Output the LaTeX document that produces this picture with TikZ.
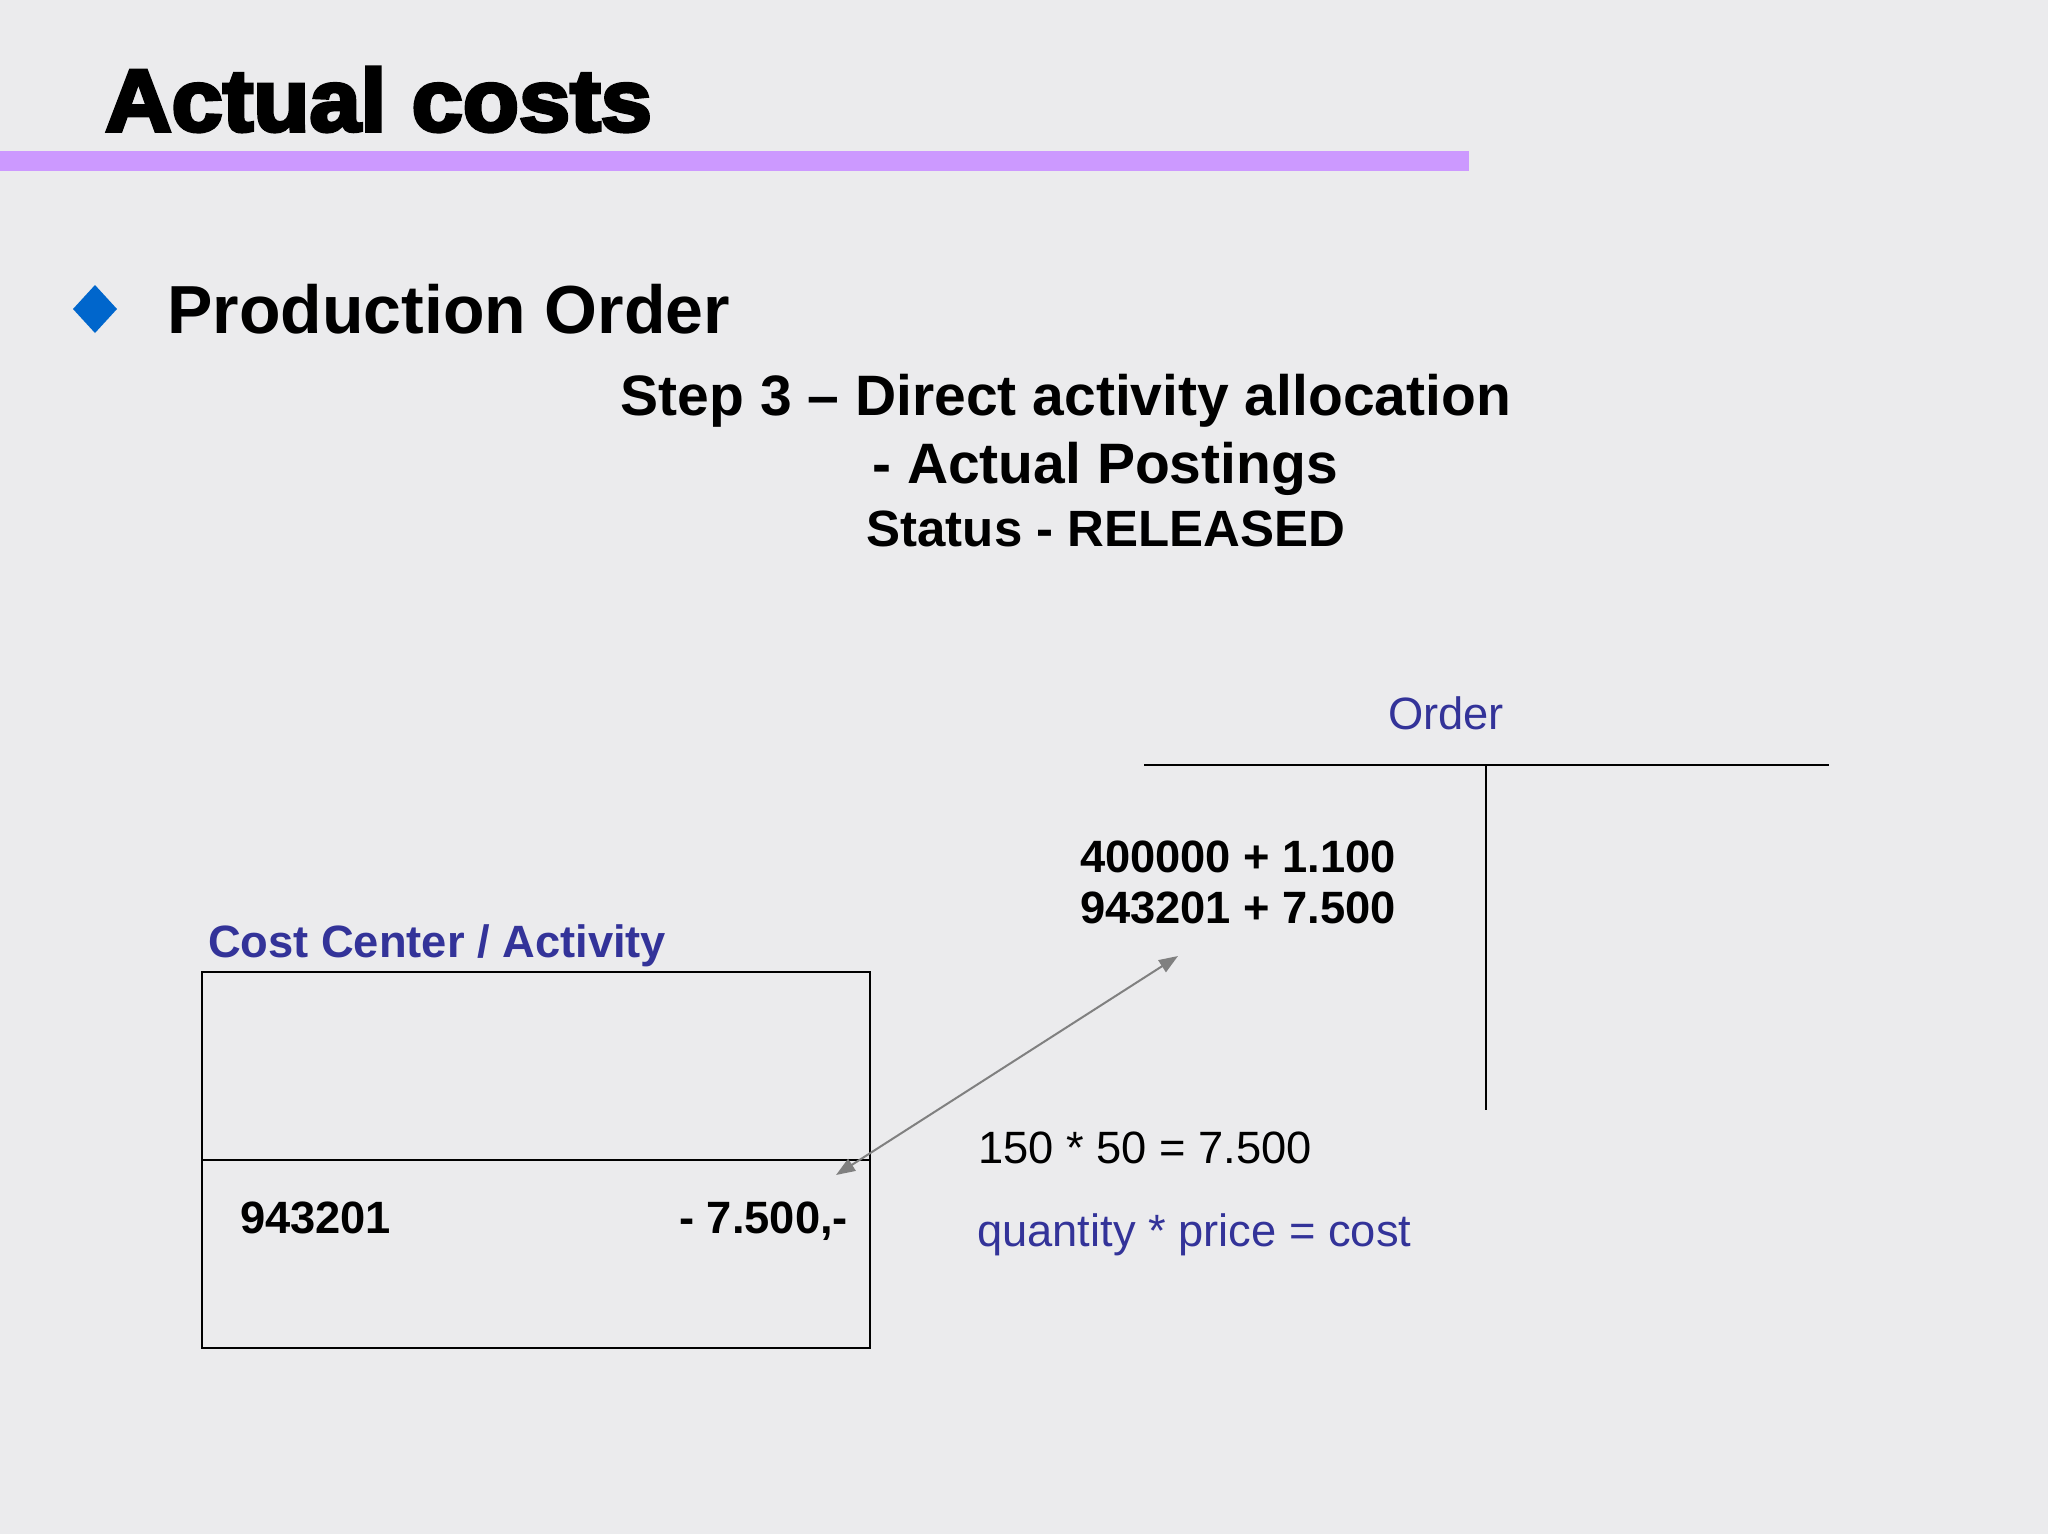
\documentclass[tikz,border=0pt]{standalone}
\usepackage{fontspec}
\setmainfont{Liberation Sans}
\newfontfamily\titlefont[FakeBold=4]{Liberation Sans Bold}
\usetikzlibrary{arrows.meta}
\definecolor{bg}{RGB}{235,235,237}
\definecolor{barpurple}{RGB}{204,153,255}
\definecolor{bulletblue}{RGB}{0,102,204}
\definecolor{txtblue}{RGB}{51,51,153}
\definecolor{arrowgray}{RGB}{128,128,128}
\tikzset{
  txt/.style={inner sep=0pt, outer sep=0pt, font=\fontsize{45.3}{50}\selectfont},
  boldtxt/.style={txt, font=\fontsize{45.3}{50}\selectfont\bfseries},
  heading/.style={inner sep=0pt, outer sep=0pt, font=\fontsize{57}{62}\selectfont\bfseries},
  rule/.style={line width=2pt, black},
  link/.style={line width=2pt, arrowgray, {Triangle[length=19pt,width=14pt]}-{Triangle[length=19pt,width=14pt]}}
}
\begin{document}
\begin{tikzpicture}[x=1pt,y=-1pt]
\fill[bg] (0,0) rectangle (2048,1534);
\useasboundingbox (0,0) rectangle (2048,1534);
% title
\node[anchor=base west, inner sep=0pt, font=\fontsize{88}{96}\titlefont] (title) at (105,131) {\scalebox{1.045}[1]{Actual costs}};
\fill[barpurple] (0,151) rectangle (1469,171);
% bullet
\fill[bulletblue] (95,285) -- (117,309) -- (95,333) -- (73,309) -- cycle;
\node[anchor=base west, inner sep=0pt, font=\fontsize{68}{74}\selectfont\bfseries] (po) at (167,333) {Production Order};
% subtitle
\node[heading, anchor=base] (step) at (1066,415) {Step 3 -- Direct activity allocation};
\node[heading, anchor=base] (post) at (1105,483) {- Actual Postings};
\node[heading, anchor=base, font=\fontsize{51}{56}\selectfont\bfseries] (status) at (1106,546) {Status - RELEASED};
% order T account
\node[txt, anchor=base west, text=txtblue] (order) at (1388,729) {Order};
\draw[rule] (1144,765) coordinate (tl) -- (1829,765) coordinate (tr);
\draw[rule] (1486,765) coordinate (tt) -- (1486,1110) coordinate (tb);
\node[boldtxt, anchor=base west] (o1) at (1080,872) {400000 + 1.100};
\node[boldtxt, anchor=base west] (o2) at (1080,923) {943201 + 7.500};
% cost center box
\node[boldtxt, anchor=base west, text=txtblue] (cc) at (208,957) {Cost Center / Activity};
\draw[rule] (202,972) rectangle (870,1348);
\draw[rule] (202,1160) -- (870,1160);
\node[boldtxt, anchor=base west] (acc) at (240,1233) {943201};
\node[boldtxt, anchor=base east] (amt) at (848,1233) {- 7.500,-};
% arrow
\coordinate (a1) at (836,1175);
\coordinate (a2) at (1178,956);
\draw[link] (a1) -- (a2);
% formulas
\node[txt, anchor=base west] (calc) at (978,1163) {150 * 50 = 7.500};
\node[txt, anchor=base west, text=txtblue] (form) at (977,1246) {quantity * price = cost};
\end{tikzpicture}
\end{document}
